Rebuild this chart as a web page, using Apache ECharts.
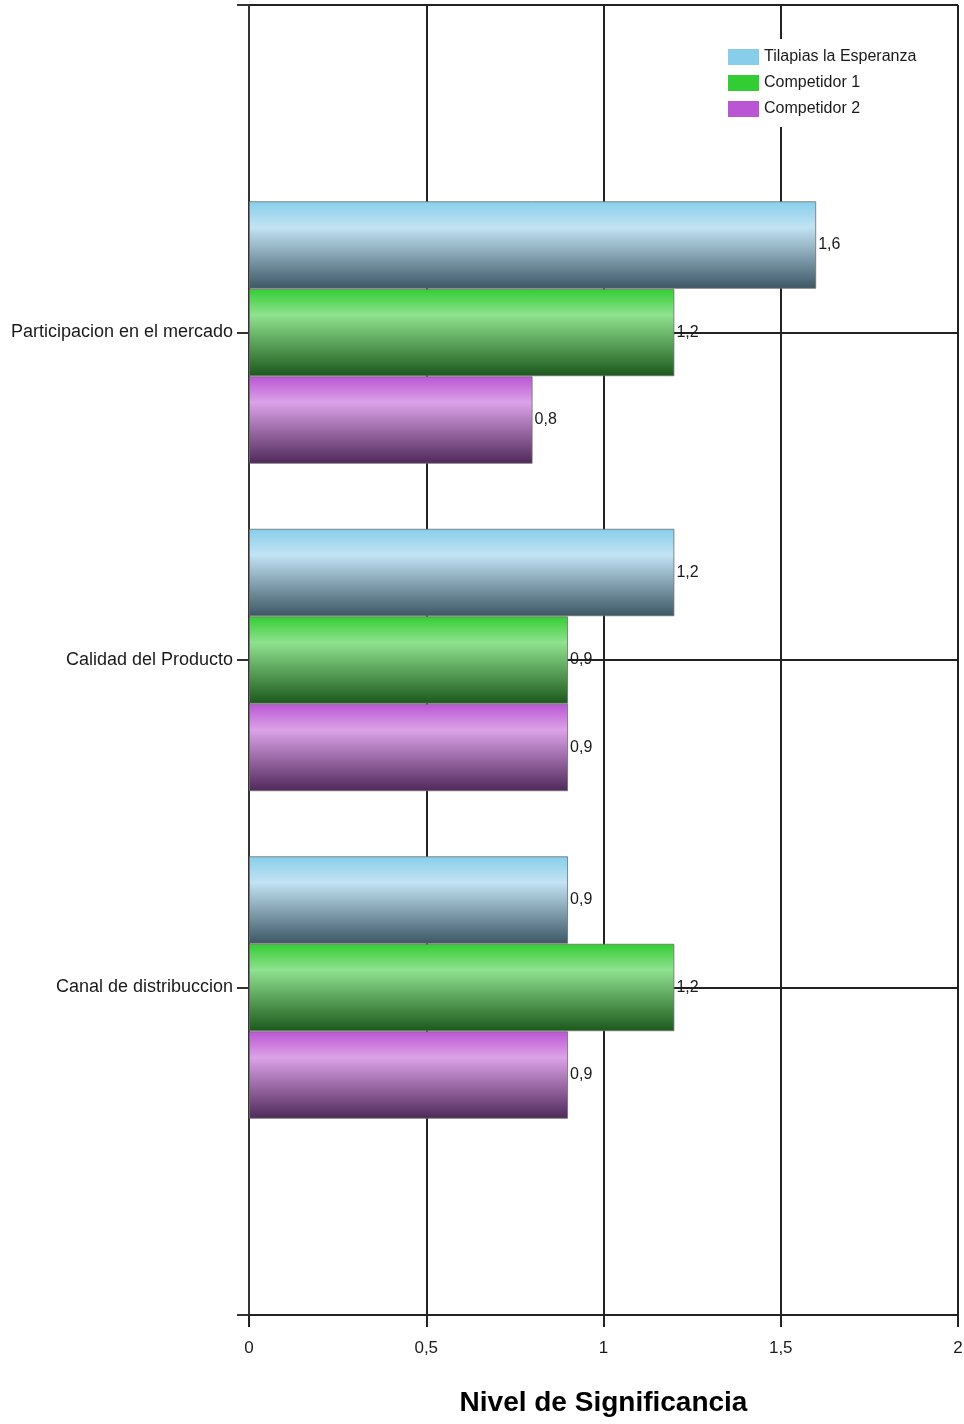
<!DOCTYPE html>
<html>
<head>
<meta charset="utf-8">
<script src="https://cdn.jsdelivr.net/npm/echarts@6/dist/echarts.min.js"></script>
<style>
html,body{margin:0;padding:0;background:#fff;}
#chart{width:964px;height:1424px;}
</style>
</head>
<body>
<div id="chart"></div>
<script>
var categories = ['Participacion en el mercado', 'Calidad del Producto', 'Canal de distribuccion'];
var seriesNames = ['Tilapias la Esperanza', 'Competidor 1', 'Competidor 2'];
var tilapias = [1.6, 1.2, 0.9];
var competidor1 = [1.2, 0.9, 1.2];
var competidor2 = [0.8, 0.9, 0.9];
var xTicks = [0, 0.5, 1, 1.5, 2];

var FONT = "'Liberation Sans Narrow', 'Arial Narrow', 'Liberation Sans', sans-serif";

function pad(arr) { return [null].concat(arr, [null]); }
var yCats = [''].concat(categories, ['']);

function grad(top, light, bottom) {
  return new echarts.graphic.LinearGradient(0, 0, 0, 1, [
    {offset: 0, color: top},
    {offset: 0.3, color: light},
    {offset: 1, color: bottom}
  ]);
}
var styles = [
  {legend: '#87CEEB', fill: grad('#87CEEB', '#c2e3f4', '#3c5664')},
  {legend: '#32CD32', fill: grad('#32CD32', '#8fe28f', '#1c571c')},
  {legend: '#BA55D3', fill: grad('#BA55D3', '#dca2e8', '#4e2859')}
];
var values = [tilapias, competidor1, competidor2];

function fmt(v) { return String(v).replace('.', ','); }

var series = values.map(function (vals, i) {
  return {
    name: seriesNames[i],
    type: 'bar',
    data: pad(vals),
    barWidth: 87.5,
    barGap: '0%',
    color: styles[i].legend,
    itemStyle: {color: styles[i].fill, borderColor: 'rgba(110,110,110,0.8)', borderWidth: 1},
    label: {
      show: true, position: 'right', distance: 2,
      fontFamily: FONT, fontSize: 16, color: '#1a1a1a',
      formatter: function (p) { return fmt(p.value); }
    },
    emphasis: {disabled: true}
  };
});

var chart = echarts.init(document.getElementById('chart'), null, {renderer: 'canvas'});
chart.setOption({
  animation: false,
  backgroundColor: '#ffffff',
  grid: {left: 249, right: 6, top: 5, bottom: 109, containLabel: false, outerBoundsMode: 'none'},
  legend: {
    orient: 'vertical', left: 718, top: 39,
    padding: [10, 10, 10, 10],
    backgroundColor: '#ffffff',
    itemWidth: 31, itemHeight: 16, itemGap: 10,
    icon: 'rect',
    textStyle: {fontFamily: FONT, fontSize: 16, color: '#1a1a1a', padding: [0, 0, 0, 0]},
    data: seriesNames.map(function (n, i) { return {name: n, itemStyle: {color: styles[i].legend, borderWidth: 0}}; })
  },
  xAxis: {
    type: 'value', min: xTicks[0], max: xTicks[xTicks.length - 1], interval: 0.5,
    name: 'Nivel de Significancia', nameLocation: 'middle', nameGap: 74,
    nameTextStyle: {fontFamily: FONT, fontSize: 28, fontWeight: 'bold', color: '#000', verticalAlign: 'top'},
    axisLine: {show: true, lineStyle: {color: '#222', width: 2}},
    axisTick: {show: true, length: 12, lineStyle: {color: '#222', width: 2}},
    axisLabel: {fontFamily: FONT, fontSize: 17, color: '#1a1a1a', margin: 25,
      formatter: function (v) { return fmt(v); }},
    splitLine: {show: true, lineStyle: {color: '#222', width: 2}}
  },
  yAxis: {
    type: 'category', data: yCats, inverse: true, boundaryGap: false,
    axisLine: {show: true, lineStyle: {color: '#333', width: 2}},
    axisTick: {show: true, length: 12, lineStyle: {color: '#333', width: 2}},
    axisLabel: {fontFamily: FONT, fontSize: 18, color: '#1a1a1a', margin: 16},
    splitLine: {show: true, lineStyle: {color: '#222', width: 2}}
  },
  series: series
});
</script>
</body>
</html>
